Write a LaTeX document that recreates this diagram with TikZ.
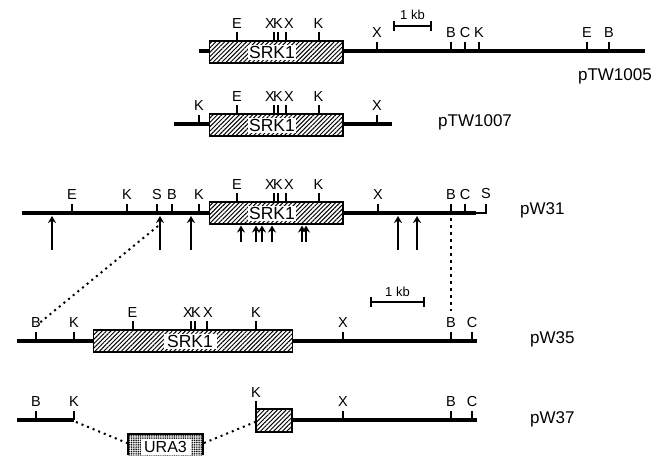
\documentclass[tikz,border=0pt]{standalone}
\usepackage{fontspec}
\setmainfont{Liberation Sans}
\usepackage{tikz}
\usetikzlibrary{arrows.meta,patterns.meta}
\tikzset{
  dna/.style={line width=3.5pt},
  sitetick/.style={line width=1.7pt},
  sitelab/.style={font=\fontsize{14.5}{15}\selectfont,inner sep=0pt},
  hatchbox/.style={draw=black,line width=1.7pt,pattern={Lines[angle=45,distance=3.1pt,line width=1pt]}},
  genelab/.style={font=\fontsize{17.5}{18}\selectfont,fill=white,inner sep=1pt,minimum width=48pt,minimum height=15pt},
  namelab/.style={font=\fontsize{17}{18}\selectfont,inner sep=0pt},
  uparrow/.style={line width=1.7pt,-{Stealth[length=7pt,width=8pt]}},
  joinline/.style={line width=2pt,dash pattern=on 2pt off 4pt}
}
\begin{document}
\begin{tikzpicture}[x=1pt,y=-1pt]
  \useasboundingbox (0,0) rectangle (660,455);
  % backbones
  \draw[dna] (199,51)--(209,51) (343,51)--(645,51);
  \draw[dna] (174,124)--(209,124) (343,124)--(392,124);
  \draw[dna] (22,213)--(210,213) (343,213)--(476,213);
  \draw[sitetick] (476,213)--(486,213)--(486,204);
  \draw[dna] (17,341)--(93.5,341) (292.5,341)--(477,341);
  \draw[dna] (17,420)--(74,420) (292,420)--(477,420);
  % SRK1 boxes with the sites on top of them
  \foreach \yy/\rr in {41/a,114/b,202/c}{
    \draw[hatchbox] (209.5,\yy) rectangle (343,\yy+22);
    \node[genelab] (srk\rr) at (272,\yy+11.5){SRK1};
    \foreach \x/\lx/\l [count=\i] in {237/237/E,274/270/X,278/278/K,286/289/X,319/318.5/K}{
      \draw[sitetick] (\x,\yy)--(\x,\yy-9);
      \node[sitelab] (top\rr\i) at (\lx,\yy-17){\l};
    }
  }
  \draw[hatchbox] (93.5,330) rectangle (292.5,352);
  \node[genelab,minimum width=53pt] (srkd) at (190,341.5){SRK1};
  \foreach \x/\lx/\l [count=\i] in {133/132.5/E,191/188/X,195/196/K,207/208/X,256/256/K}{
    \draw[sitetick] (\x,330)--(\x,321);
    \node[sitelab] (topd\i) at (\lx,313){\l};
  }
  % sites on the backbones
  \foreach \x/\yy/\l [count=\i] in {377/51/X,451/51/B,465/51/C,479/51/K,587/51/E,609/51/B,
      199/124/K,377/124/X,
      72/213/E,127/213/K,157/213/S,172/213/B,199/213/K,378/213/X,451/213/B,465/213/C,
      36/341/B,74/341/K,343/341/X,451/341/B,472/341/C,
      36/420/B,74/420/K,343/420/X,451/420/B,472/420/C}{
    \draw[sitetick] (\x,\yy)--(\x,\yy-9);
    \node[sitelab] (site\i) at (\x,\yy-18){\l};
  }
  \node[sitelab] (siteS) at (486,194){S};
  % scale bars
  \draw[sitetick] (394,21)--(394,31) (394,26)--(431,26) (431,21)--(431,31);
  \node[font=\fontsize{13}{14}\selectfont,inner sep=0pt] (kba) at (412.5,15){1 kb};
  \draw[sitetick] (371,297)--(371,307) (371,302)--(424,302) (424,297)--(424,307);
  \node[font=\fontsize{13}{14}\selectfont,inner sep=0pt] (kbb) at (397.5,292){1 kb};
  % arrows below pW31
  \foreach \x in {52,160,191,398,417}{\draw[uparrow] (\x,250)--(\x,216);}
  \foreach \x in {241,256,262,272,302,306}{\draw[uparrow] (\x,242)--(\x,225.5);}
  % pW37 pieces
  \draw[hatchbox] (256,409) rectangle (292,432);
  \draw[sitetick] (256,409)--(256,401);
  \node[sitelab] (kcut) at (256,393){K};
  \fill[pattern={Dots[radius=.7pt,distance=1.8pt]}] (128,434) rectangle (203,455);
  \draw[line width=1.8pt] (128,455)--(128,434)--(203,434)--(203,455);
  \node[fill=white,inner sep=0pt,minimum width=50pt,minimum height=16pt,font=\fontsize{16}{17}\selectfont] (ura) at (165.5,447){URA3};
  % joins
  \coordinate (ja) at (158,226);\coordinate (jb) at (37,325);
  \coordinate (jc) at (451,218);\coordinate (jd) at (451,311);
  \coordinate (je) at (76,422);\coordinate (jf) at (127,443);
  \coordinate (jg) at (204,443);\coordinate (jh) at (255,422);
  \draw[joinline] (ja)--(jb);
  \draw[line width=1.7pt,dash pattern=on 3pt off 4pt] (jc)--(jd);
  \draw[joinline] (je)--(jf) (jg)--(jh);
  % plasmid names
  \node[namelab,anchor=east] (nma) at (652,76){pTW1005};
  \node[namelab,anchor=west] (nmb) at (438,122){pTW1007};
  \node[namelab,anchor=west] (nmc) at (520,210){pW31};
  \node[namelab,anchor=west] (nmd) at (530,339){pW35};
  \node[namelab,anchor=west] (nme) at (530,419){pW37};
\end{tikzpicture}
\end{document}
